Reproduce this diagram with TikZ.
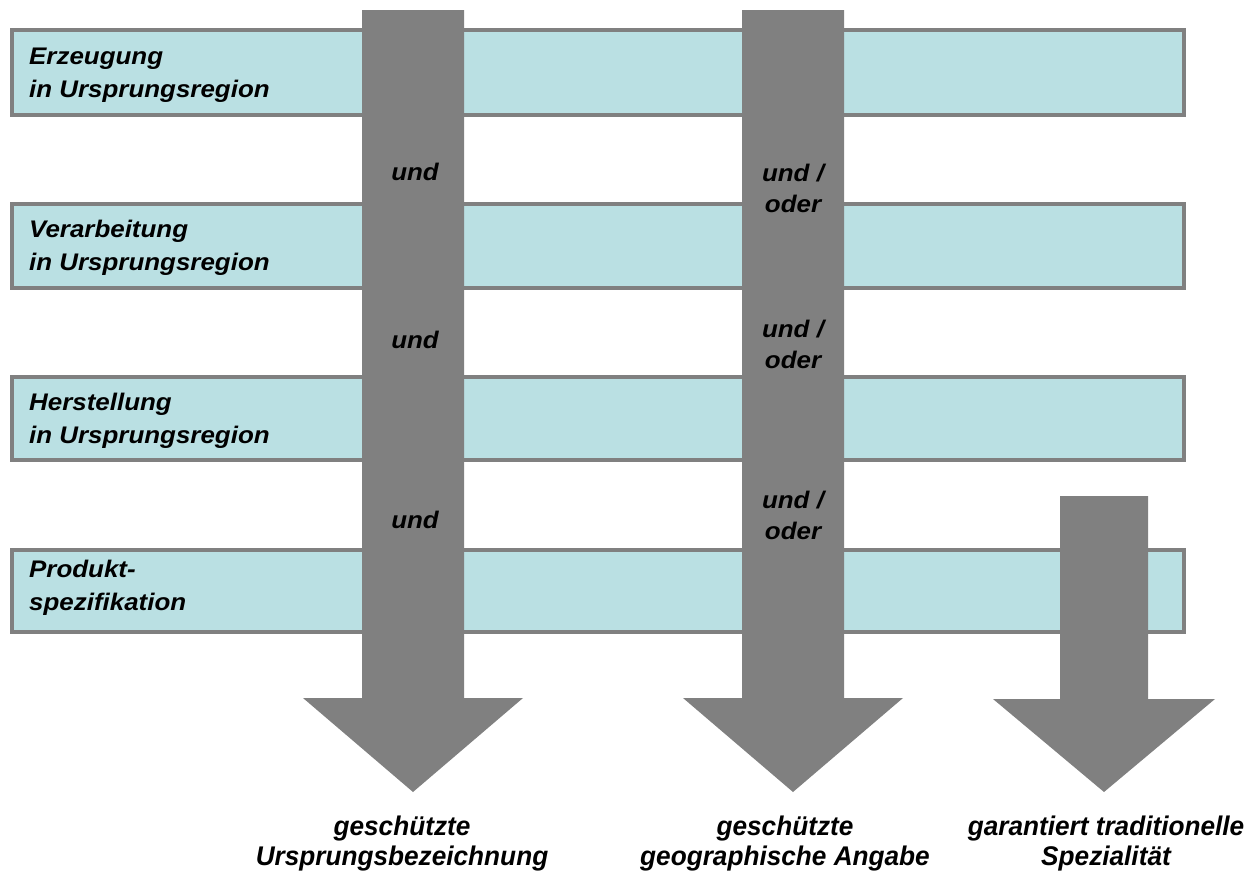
\documentclass[tikz,border=0pt]{standalone}
\usepackage{fontspec}
\setmainfont{Liberation Sans}
\newfontfamily\boxfont{Liberation Sans}[FakeStretch=1.08]
\newfontfamily\resfont{Liberation Sans}[FakeStretch=0.97]
\definecolor{boxfill}{HTML}{BAE0E3}
\definecolor{arrowgray}{HTML}{808080}
\begin{document}
\begin{tikzpicture}[x=1pt,y=-1pt,
  stage/.style={draw=arrowgray, line width=4pt, fill=boxfill},
  blockarrow/.style={fill=arrowgray},
  lbl/.style={font=\boxfont\bfseries\itshape\fontsize{24}{33}\selectfont, align=left, anchor=west, inner sep=0pt},
  conj/.style={font=\boxfont\bfseries\itshape\fontsize{24}{31}\selectfont, align=center, inner sep=0pt},
  result/.style={font=\resfont\bfseries\itshape\fontsize{27}{30}\selectfont, align=center, inner sep=0pt}]
\useasboundingbox (0,0) rectangle (1255,870);
% stage boxes
\draw[stage] (12,30) rectangle (1184,115);
\draw[stage] (12,204) rectangle (1184,288);
\draw[stage] (12,377) rectangle (1184,460);
\draw[stage] (12,550) rectangle (1184,632);
% block arrows
\fill[blockarrow] (362,10) -- (464,10) -- (464,698) -- (523,698) -- (413,792) -- (303,698) -- (362,698) -- cycle;
\fill[blockarrow] (742,10) -- (844,10) -- (844,698) -- (903,698) -- (793,792) -- (683,698) -- (742,698) -- cycle;
\fill[blockarrow] (1060,496) -- (1148,496) -- (1148,699) -- (1215,699) -- (1104,792) -- (993,699) -- (1060,699) -- cycle;
% box labels
\node[lbl] (l1) at (29,75) {Erzeugung\\in Ursprungsregion};
\node[lbl] (l2) at (29,248) {Verarbeitung\\in Ursprungsregion};
\node[lbl] (l3) at (29,421) {Herstellung\\in Ursprungsregion};
\node[lbl] (l4) at (29,588) {Produkt-\\spezifikation};
% conjunctions
\node[conj] (u1) at (415,172) {und};
\node[conj] (u2) at (415,340) {und};
\node[conj] (u3) at (415,520) {und};
\node[conj] (o1) at (793,188) {und /\\oder};
\node[conj] (o2) at (793,344) {und /\\oder};
\node[conj] (o3) at (793,515) {und /\\oder};
% results
\node[result] (r1) at (402,844) {geschützte\\Ursprungsbezeichnung};
\node[result] (r2) at (785,844) {geschützte\\geographische Angabe};
\node[result] (r3) at (1106,844) {garantiert traditionelle\\Spezialität};
\end{tikzpicture}
\end{document}
